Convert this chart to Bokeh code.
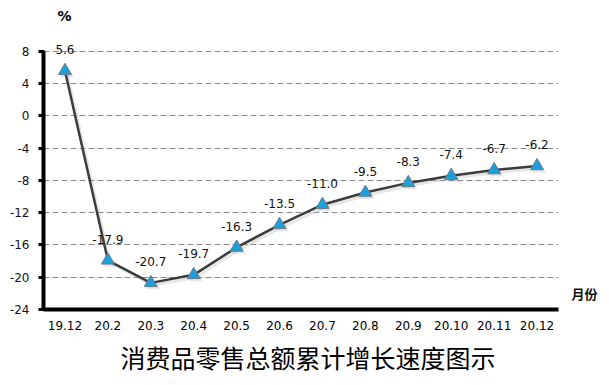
from bokeh.plotting import figure
from bokeh.models import (FixedTicker, Label, ColumnDataSource, FactorRange, Range1d,
                          LinearAxis, Title)
from bokeh.transform import dodge
from bokeh.embed import file_html
from bokeh.resources import INLINE
from bokeh.core.properties import value

months = ["19.12", "20.2", "20.3", "20.4", "20.5", "20.6", "20.7", "20.8", "20.9", "20.10", "20.11", "20.12"]
growth = [5.6, -17.9, -20.7, -19.7, -16.3, -13.5, -11.0, -9.5, -8.3, -7.4, -6.7, -6.2]
labels = ["5.6", "-17.9", "-20.7", "-19.7", "-16.3", "-13.5", "-11.0", "-9.5", "-8.3", "-7.4", "-6.7", "-6.2"]
y_ticks = [8, 4, 0, -4, -8, -12, -16, -20, -24]
y_tick_labels = ["8", "4", "0", "-4", "-8", "-12", "-16", "-20", "-24"]
title_text = "消费品零售总额累计增长速度图示"
unit_text = "%"
xname_text = "月份"

src = ColumnDataSource(dict(m=months, v=growth, t=labels))

p = figure(width=600, height=385, x_range=FactorRange(*months, range_padding=0),
           y_range=Range1d(-24, 13.7), output_backend="svg", toolbar_location=None,
           min_border_left=43, min_border_right=42, min_border_top=5, min_border_bottom=76)
p.outline_line_color = None
p.background_fill_color = "white"
p.border_fill_color = "white"

p.xgrid.grid_line_color = None
p.ygrid.grid_line_color = "#8a8a8a"
p.ygrid.grid_line_dash = "6 3"
p.ygrid.grid_line_width = 1

p.yaxis.ticker = FixedTicker(ticks=y_ticks)
p.yaxis.major_label_overrides = dict(zip(y_ticks, y_tick_labels))
p.yaxis.bounds = (-24, 8)
p.yaxis.axis_line_width = 4
p.yaxis.axis_line_color = "black"
p.yaxis.major_tick_line_width = 3
p.yaxis.major_tick_out = 5
p.yaxis.major_tick_in = 1
p.yaxis.minor_tick_line_color = None
p.yaxis.major_label_text_font = "DejaVu Sans"
p.yaxis.major_label_text_font_size = "12px"
p.yaxis.major_label_text_color = "#111122"
p.yaxis.major_label_standoff = 9

p.xaxis.axis_line_width = 4
p.xaxis.axis_line_color = "black"
p.xaxis.major_tick_line_color = None
p.xaxis.major_tick_out = 0
p.xaxis.major_tick_in = 0
p.xaxis.major_label_text_font = "DejaVu Sans"
p.xaxis.major_label_text_font_size = "12px"
p.xaxis.major_label_text_color = "black"
p.xaxis.major_label_standoff = 11

# axis name "月份" as a lone tick label on a right-hand axis
name_axis = LinearAxis(ticker=FixedTicker(ticks=[-22]), major_label_overrides={-22: xname_text},
                       axis_line_color=None, major_tick_line_color=None, minor_tick_line_color=None,
                       major_label_standoff=7, major_label_text_font="Noto Sans CJK SC",
                       major_label_text_font_size="13px", major_label_text_font_style="bold",
                       major_label_text_color="#111111")
p.add_layout(name_axis, "right")

p.add_layout(Title(text=title_text, align="left", text_font="DejaVu Sans, 'Noto Sans CJK SC'",
                   text_font_size="25px", text_font_style="normal", text_color="black",
                   standoff=20, offset=77), "below")

# soft shadow
p.line(x=dodge("m", 0.05, range=p.x_range), y=dodge("v", -0.3), source=src,
       line_color="#9a9a9a", line_width=3, line_alpha=0.25)
p.scatter(x=dodge("m", 0.05, range=p.x_range), y=dodge("v", -0.3), source=src,
          marker="triangle", size=14, fill_color="#888888", fill_alpha=0.2, line_color=None)

p.line(x="m", y="v", source=src, line_color="#3c3c3c", line_width=2.5)
p.scatter(x="m", y="v", source=src, marker="triangle", size=13,
          fill_color="#1aa0dc", line_color="#6a7a88", line_width=1)

p.text(x="m", y="v", text="t", source=src, y_offset=-21,
       text_align="center", text_baseline="middle",
       text_font=value("DejaVu Sans"), text_font_size="12px", text_color="#111111")

p.add_layout(Label(x=21, y=294, x_units="screen", y_units="screen", text=unit_text,
                   text_align="center", text_baseline="middle",
                   text_font="DejaVu Sans", text_font_size="14px", text_font_style="bold",
                   text_color="black"))

open("out.html", "w").write(file_html(p, INLINE))
